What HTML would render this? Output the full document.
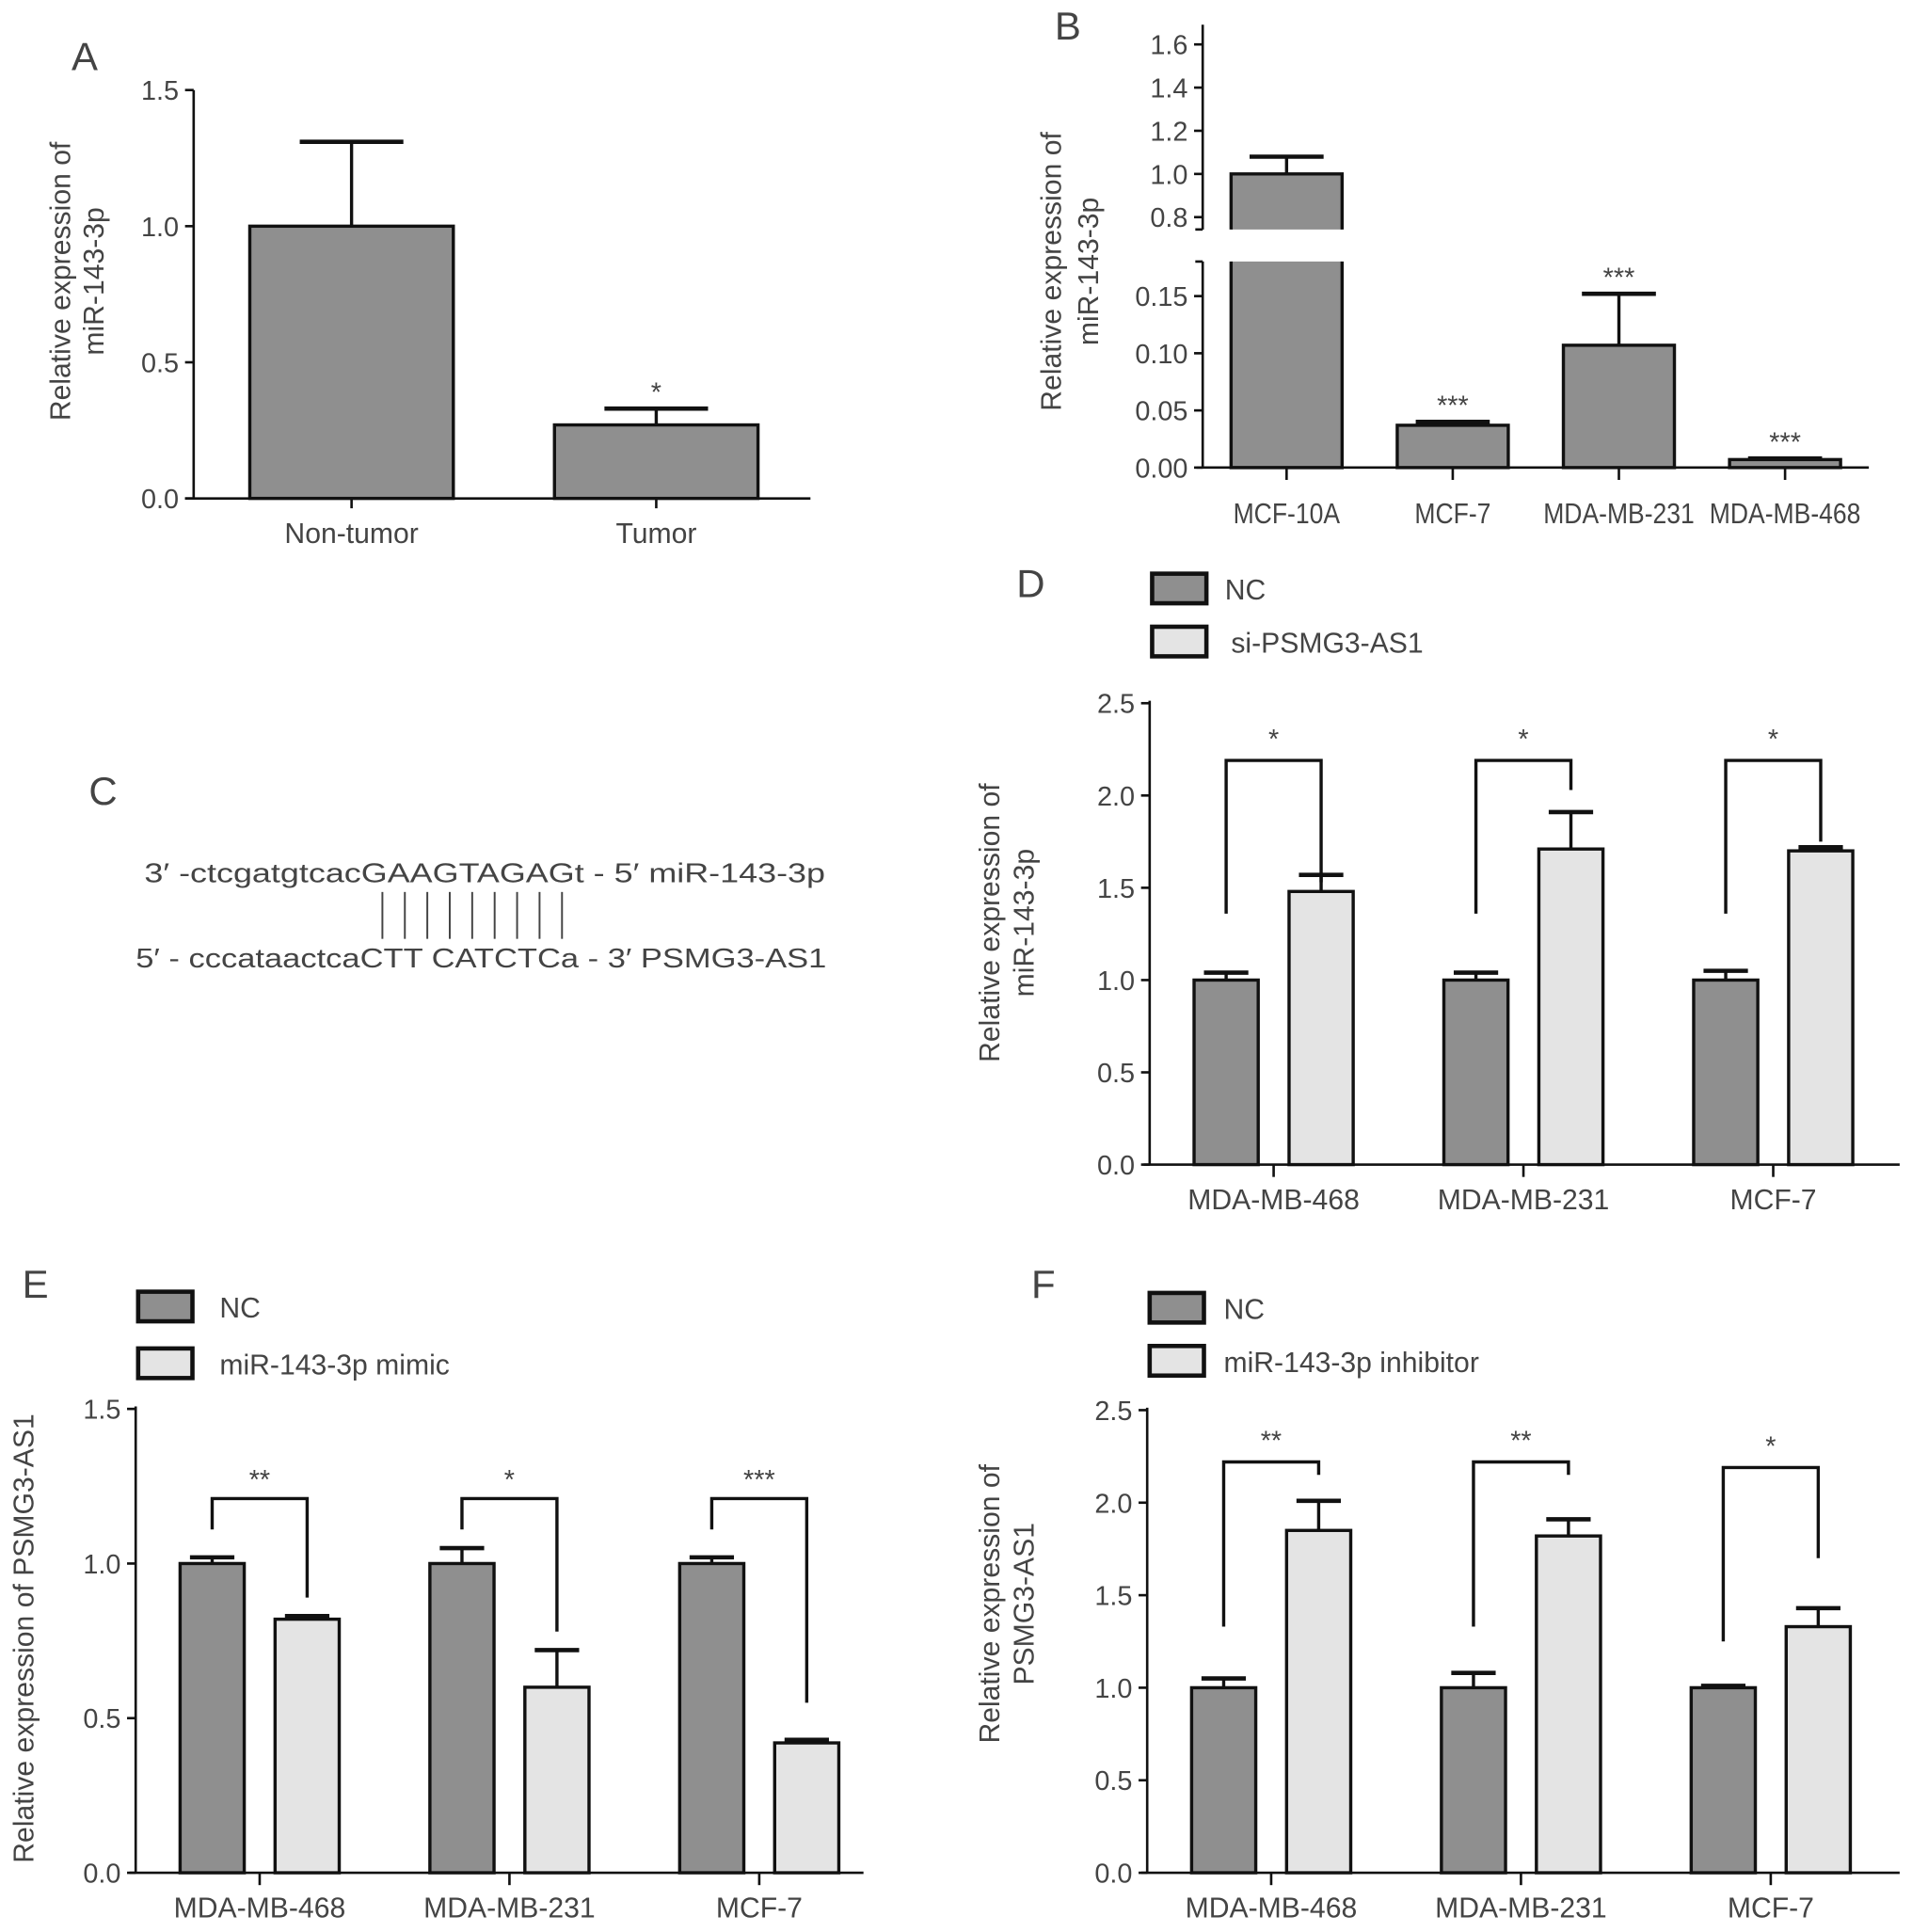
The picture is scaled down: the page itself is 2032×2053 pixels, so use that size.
<!DOCTYPE html>
<html><head><meta charset="utf-8">
<style>
html,body{margin:0;padding:0;background:#fff;}
svg{display:block;}
text{font-family:"Liberation Sans",sans-serif;fill:#444;}
</style></head>
<body>
<svg id="fig" width="2032" height="2053" viewBox="0 0 1550 1566" preserveAspectRatio="none" xmlns="http://www.w3.org/2000/svg">
  <g id="panelC">
    <text x="72" y="652" font-size="32" fill="#333">C</text>
    <text x="117" y="715" font-size="22" textLength="552" lengthAdjust="spacingAndGlyphs">3′  -ctcgatgtcacGAAGTAGAGt - 5′ miR-143-3p</text>
    <g id="pairs"></g>
    <text x="110" y="784" font-size="22" textLength="560" lengthAdjust="spacingAndGlyphs">5′  - cccataactcaCTT CATCTCa - 3′ PSMG3-AS1</text>
  </g>
</svg>
<script>
// ---- Panel A data ----
const catsA = ["Non-tumor","Tumor"];
const valsA = [1.0, 0.27];
const errA = [1.31, 0.33];
const starsA = ["", "*"];
const ticksA = ["0.0","0.5","1.0","1.5"];
// ---- Panel B data ----
const catsB = ["MCF-10A","MCF-7","MDA-MB-231","MDA-MB-468"];
const valsB = [1.0, 0.037, 0.107, 0.007];
const errB = [1.08, 0.040, 0.152, 0.008];
const starsB = ["", "***", "***", "***"];
const ticksBLow = ["0.00","0.05","0.10","0.15"];
const ticksBHigh = ["0.8","1.0","1.2","1.4","1.6"];
// ---- Panel D data ----
const catsD = ["MDA-MB-468","MDA-MB-231","MCF-7"];
const ncD = [1.0, 1.0, 1.0];
const ncErrD = [1.04, 1.04, 1.05];
const trtD = [1.48, 1.71, 1.70];
const trtErrD = [1.57, 1.91, 1.72];
const starsD = ["*","*","*"];
const brTopD = [2.19, 2.19, 2.19];
const brLeftD = [1.36, 1.36, 1.36];
const brRightD = [1.53, 2.03, 1.75];
const ticksD = ["0.0","0.5","1.0","1.5","2.0","2.5"];
// ---- Panel E data ----
const catsE = ["MDA-MB-468","MDA-MB-231","MCF-7"];
const ncE = [1.0, 1.0, 1.0];
const ncErrE = [1.02, 1.05, 1.02];
const trtE = [0.82, 0.60, 0.42];
const trtErrE = [0.83, 0.72, 0.43];
const starsE = ["**","*","***"];
const brTopE = [1.21, 1.21, 1.21];
const brLeftE = [1.11, 1.11, 1.11];
const brRightE = [0.89, 0.78, 0.55];
const ticksE = ["0.0","0.5","1.0","1.5"];
// ---- Panel F data ----
const catsF = ["MDA-MB-468","MDA-MB-231","MCF-7"];
const ncF = [1.0, 1.0, 1.0];
const ncErrF = [1.05, 1.08, 1.01];
const trtF = [1.85, 1.82, 1.33];
const trtErrF = [2.01, 1.91, 1.43];
const starsF = ["**","**","*"];
const brTopF = [2.22, 2.22, 2.19];
const brLeftF = [1.33, 1.33, 1.25];
const brRightF = [2.15, 2.15, 1.70];
const ticksF = ["0.0","0.5","1.0","1.5","2.0","2.5"];

const NS = "http://www.w3.org/2000/svg";
const svg = document.getElementById("fig");
const DARK = "#8f8f8f", LIGHT = "#e4e4e4", SW = 2.6;
function mk(tag, attrs, parent, txt){
  const e = document.createElementNS(NS, tag);
  for (const k in attrs) e.setAttribute(k, attrs[k]);
  if (txt !== undefined) e.textContent = txt;
  (parent || svg).appendChild(e);
  return e;
}
function line(x1,y1,x2,y2,p,w){ return mk("line",{x1,y1,x2,y2,stroke:"#111","stroke-width":w||SW},p); }
function linScale(v0,v1,p0,p1){ return v => p0 + (v - v0) * (p1 - p0) / (v1 - v0); }
function group(name){
  const g = mk("g",{});
  
  
  return g;
}
function yTicks(g, ticks, y, axX){
  ticks.forEach(t => {
    const yy = y(parseFloat(t));
    line(axX-7, yy, axX, yy, g, 2);
    const tx = mk("text",{x:axX-12,y:yy+8,"font-size":22,"text-anchor":"end"},g,t);
    
    
  });
}
function errBar(g, cx, yv, ye, half){
  line(cx, ye, cx, yv, g);
  line(cx-half, ye, cx+half, ye, g, 3.5);
}
function yTitle(g, lines, xs, cy){
  lines.forEach((l,i) => {
    const t = mk("text",{x:xs[i],y:cy,"font-size":23,"text-anchor":"middle",transform:`rotate(-90 ${xs[i]} ${cy})`},g,l);
    
    
  });
}
function panelLabel(g, s, x, y){
  const t = mk("text",{x,y,"font-size":32,fill:"#333"},g,s);
  
  
}

// ---------- Panel A ----------
(function(){
  const g = group("panel-a-chart");
  panelLabel(g,"A",58,57);
  const y = linScale(0,1.5,404,73);
  const axX = 157, x0 = 150, x1 = 657;
  const centers = catsA.map((c,i) => 285 + i*247);
  const bw = 165;
  catsA.forEach((c,i) => {
    const cx = centers[i];
    errBar(g, cx, y(valsA[i]), y(errA[i]), 42);
    const r = mk("rect",{x:cx-bw/2,y:y(valsA[i]),width:bw,height:y(0)-y(valsA[i]),fill:DARK,stroke:"#111","stroke-width":SW},g);
    
    
    if (starsA[i]) mk("text",{x:cx,y:y(errA[i])-6,"font-size":22,"text-anchor":"middle",fill:"#333"},g,starsA[i]);
    line(cx, y(0), cx, y(0)+8, g, 2);
    const lb = mk("text",{x:cx,y:440,"font-size":23,"text-anchor":"middle"},g,c);
    
    
  });
  line(axX, y(1.5), axX, y(0), g, 2);
  line(x0, y(0), x1, y(0), g, 2);
  yTicks(g, ticksA, y, axX);
  yTitle(g, ["Relative expression of","miR-143-3p"], [57,84], 228);
})();

// ---------- Panel B ----------
(function(){
  const g = group("panel-b-chart");
  panelLabel(g,"B",855,32);
  const yHi = linScale(0.8,1.6,176,36);
  const yLo = linScale(0,0.15,379,240);
  const axX = 975;
  const y = v => v >= 0.5 ? yHi(v) : yLo(v);
  const centers = catsB.map((c,i) => 1043 + i*134.7);
  const bw = 90;
  const brHi = 186, brLo = 212;
  catsB.forEach((c,i) => {
    const cx = centers[i];
    errBar(g, cx, y(valsB[i]), y(errB[i]), 30);
    if (valsB[i] >= 0.5) {
      const r1 = mk("path",{d:`M${cx-bw/2},${brHi} V${y(valsB[i])} H${cx+bw/2} V${brHi}`,fill:DARK,stroke:"#111","stroke-width":SW},g);
      
      
      const r2 = mk("path",{d:`M${cx-bw/2},${brLo} V${yLo(0)} H${cx+bw/2} V${brLo}`,fill:DARK,stroke:"#111","stroke-width":SW},g);
      
      
    } else {
      const r = mk("rect",{x:cx-bw/2,y:y(valsB[i]),width:bw,height:yLo(0)-y(valsB[i]),fill:DARK,stroke:"#111","stroke-width":SW},g);
      
      
    }
    if (starsB[i]) mk("text",{x:cx,y:y(errB[i])-6,"font-size":22,"text-anchor":"middle",fill:"#333"},g,starsB[i]);
    line(cx, yLo(0), cx, yLo(0)+10, g, 2);
    const lb = mk("text",{x:cx,y:424,"font-size":23,"text-anchor":"middle"},g,c);
    
    
    const len = lb.getComputedTextLength();
    lb.setAttribute("textLength", (len*0.88).toFixed(1));
    lb.setAttribute("lengthAdjust", "spacingAndGlyphs");
  });
  line(axX, 20, axX, brHi, g, 2);
  line(axX-6, brHi, axX, brHi, g, 2);
  line(axX, brLo, axX, yLo(0), g, 2);
  line(axX-6, brLo, axX, brLo, g, 2);
  line(970, yLo(0), 1515, yLo(0), g, 2);
  yTicks(g, ticksBHigh, yHi, axX);
  yTicks(g, ticksBLow, yLo, axX);
  yTitle(g, ["Relative expression of","miR-143-3p"], [860,890], 220);
})();

// ---------- Grouped panels ----------
function grouped(name, label, lblPos, axX, yBot, yTop, vmax, xEnd, cats, nc, ncErr, trt, trtErr, stars, brTop, brLeft, brRight, ticks, legTxt, legY, legTxtX, titleLines, titleXs, titleCy, starDy){
  const g = group(name);
  panelLabel(g, label, lblPos[0], lblPos[1]);
  const y = linScale(0, vmax, yBot, yTop);
  const first = axX + 62;
  const bw = 52;
  cats.forEach((c,i) => {
    const cxA = first + i*202.5, cxB = cxA + 77;
    errBar(g, cxA, y(nc[i]), y(ncErr[i]), 18);
    errBar(g, cxB, y(trt[i]), y(trtErr[i]), 18);
    const r1 = mk("rect",{x:cxA-bw/2,y:y(nc[i]),width:bw,height:yBot-y(nc[i]),fill:DARK,stroke:"#111","stroke-width":SW},g);
    
    
    const r2 = mk("rect",{x:cxB-bw/2,y:y(trt[i]),width:bw,height:yBot-y(trt[i]),fill:LIGHT,stroke:"#111","stroke-width":SW},g);
    
    
    const br = mk("path",{d:`M${cxA},${y(brLeft[i])} V${y(brTop[i])} H${cxB} V${y(brRight[i])}`,fill:"none",stroke:"#111","stroke-width":SW},g);
    
    
    mk("text",{x:(cxA+cxB)/2,y:y(brTop[i])-starDy,"font-size":22,"text-anchor":"middle",fill:"#333"},g,stars[i]);
    const mid = (cxA+cxB)/2;
    line(mid, yBot, mid, yBot+10, g, 2);
    const lb = mk("text",{x:mid,y:yBot+36,"font-size":23,"text-anchor":"middle"},g,c);
    
    
  });
  line(axX, yTop-2, axX, yBot, g, 2);
  line(axX-5, yBot, xEnd, yBot, g, 2);
  yTicks(g, ticks, y, axX);
  [[DARK,"NC"],[LIGHT,legTxt]].forEach((L,k) => {
    const ly = legY[k];
    const r = mk("rect",{x:axX+2,y:ly-12,width:44,height:24,fill:L[0],stroke:"#111","stroke-width":3.5},g);
    
    
    const t = mk("text",{x:legTxtX[k],y:ly+9,"font-size":23},g,L[1]);
    
    
  });
  yTitle(g, titleLines, titleXs, titleCy);
}
grouped("panel-d-chart","D",[824,484],932,944,570,2.5,1540,catsD,ncD,ncErrD,trtD,trtErrD,starsD,brTopD,brLeftD,brRightD,ticksD,"si-PSMG3-AS1",[477,520],[993,998],["Relative expression of","miR-143-3p"],[810,838],748,10);
grouped("panel-e-chart","E",[18,1052],110,1518,1142,1.5,700,catsE,ncE,ncErrE,trtE,trtErrE,starsE,brTopE,brLeftE,brRightE,ticksE,"miR-143-3p mimic",[1059,1105],[178,178],["Relative expression of PSMG3-AS1"],[27],1328,8);
grouped("panel-f-chart","F",[836,1052],930,1518,1143,2.5,1540,catsF,ncF,ncErrF,trtF,trtErrF,starsF,brTopF,brLeftF,brRightF,ticksF,"miR-143-3p inhibitor",[1060,1103],[992,992],["Relative expression of","PSMG3-AS1"],[810,838],1300,10);

const pg = document.getElementById("pairs");
for (let i = 0; i < 9; i++) {
  const x = 310 + i*18.2;
  const l = mk("line",{x1:x,y1:723,x2:x,y2:761,stroke:"#444","stroke-width":1.5},pg);
  
  
}
</script>
</body></html>
